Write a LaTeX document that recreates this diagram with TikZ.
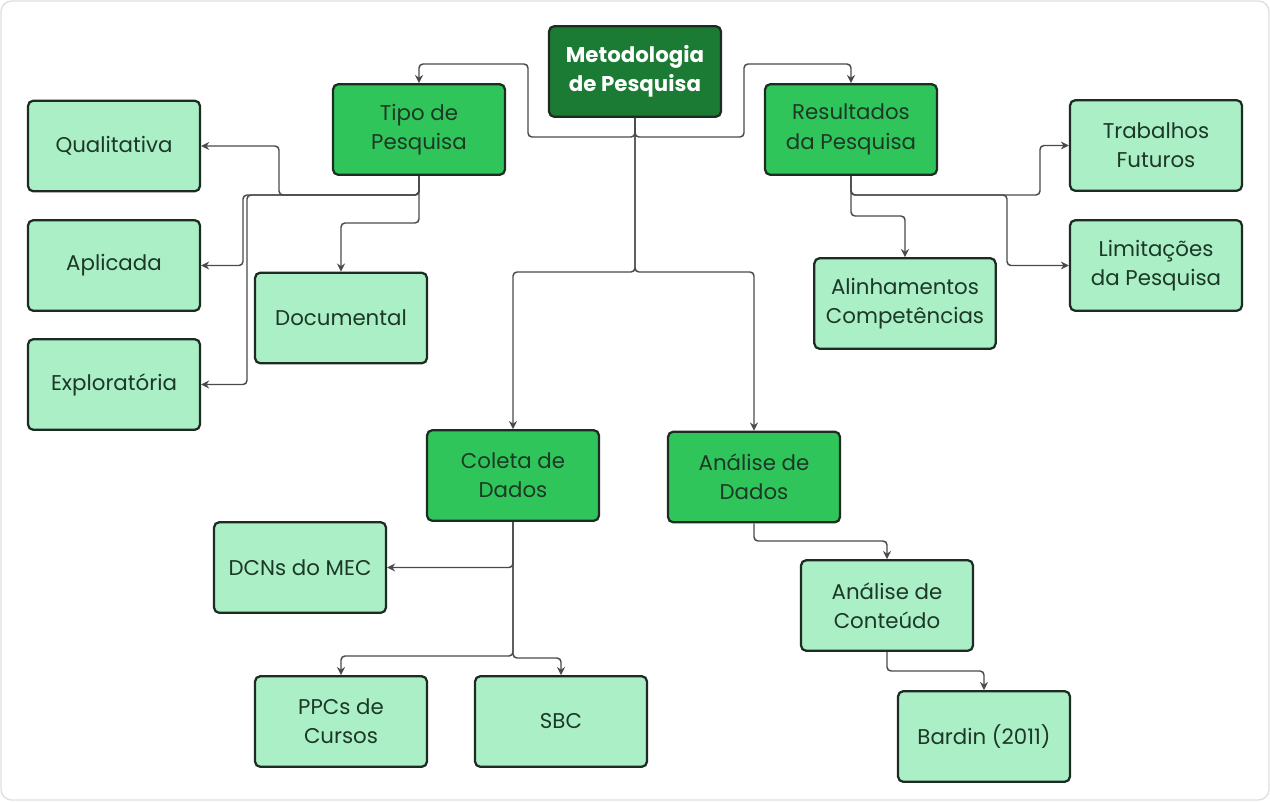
\documentclass[tikz,border=0pt]{standalone}
\usepackage{fontspec}
\setmainfont{Poppins}
\usetikzlibrary{arrows.meta}
\definecolor{deep}{HTML}{1B7A33}
\definecolor{mid}{HTML}{30C55A}
\definecolor{pale}{HTML}{ABEFC6}
\definecolor{edge}{HTML}{1E2B22}
\definecolor{ink}{HTML}{1C3826}
\definecolor{wire}{HTML}{4A4A4A}

\begin{document}
\begin{tikzpicture}[x=0.75pt, y=-0.75pt,
  box/.style={draw=edge, line width=1.7pt, rounded corners=4pt, fill=pale,
              minimum width=129pt, minimum height=68pt, align=center,
              text=ink, font=\fontsize{16}{22}\selectfont},
  midbox/.style={box, fill=mid},
  topbox/.style={box, fill=deep, text=white,
                 font=\fontsize{16}{22}\selectfont\bfseries},
  arr/.style={-{Stealth[length=6pt, width=6pt]}, wire, line width=1.1pt,
              rounded corners=3pt}]
  \useasboundingbox (0,0) rectangle (1270,801);
  \draw[black!13, line width=1pt, rounded corners=8pt] (1,1) rectangle (1269,800);

  \node[topbox] (metod) at (635,71.5) {Metodologia\\de Pesquisa};
  \node[midbox] (tipo) at (419,129.5) {Tipo de\\Pesquisa};
  \node[midbox] (res) at (851,129.5) {Resultados\\da Pesquisa};
  \node[box] (qual) at (114,146) {Qualitativa};
  \node[box] (aplic) at (114,265.5) {Aplicada};
  \node[box] (explo) at (114,384.5) {Exploratória};
  \node[box] (doc) at (341,318) {Documental};
  \node[box] (trab) at (1156,145.5) {Trabalhos\\Futuros};
  \node[box] (limit) at (1156,265.5) {Limitações\\da Pesquisa};
  \node[box, minimum width=136pt] (alin) at (905,303.5) {Alinhamentos\\Competências};
  \node[midbox] (coleta) at (513,475.5) {Coleta de\\Dados};
  \node[midbox] (analise) at (754,477) {Análise de\\Dados};
  \node[box] (dcn) at (300,567.5) {DCNs do MEC};
  \node[box] (ppc) at (341,721.5) {PPCs de\\Cursos};
  \node[box] (sbc) at (561,721.5) {SBC};
  \node[box] (conteudo) at (887,605.5) {Análise de\\Conteúdo};
  \node[box] (bardin) at (984,736.5) {Bardin (2011)};

  \draw[arr] (metod.south) |- (528,137) |- (419,64) -- (tipo.north);
  \draw[arr] (metod.south) |- (744,137) |- (851,64) -- (res.north);
  \draw[arr] (metod.south) |- (513,272) -- (coleta.north);
  \draw[arr] (metod.south) |- (754,272) -- (analise.north);

  \draw[arr] (tipo.south) |- (279,195) |- (qual.east);
  \draw[arr] (tipo.south) |- (243,195) |- (aplic.east);
  \draw[arr] (tipo.south) |- (247,195) |- (explo.east);
  \draw[arr] (tipo.south) |- (341,223) -- (doc.north);

  \draw[arr] (res.south) |- (1040,195) |- (trab.west);
  \draw[arr] (res.south) |- (1007,195) |- (limit.west);
  \draw[arr] (res.south) |- (905,216) -- (alin.north);

  \draw[arr] (coleta.south) |- (dcn.east);
  \draw[arr] (coleta.south) |- (341,656) -- (ppc.north);
  \draw[arr] (coleta.south) |- (561,658) -- (sbc.north);

  \draw[arr] (analise.south) |- (887,541) -- (conteudo.north);
  \draw[arr] (conteudo.south) |- (984,671) -- (bardin.north);
\end{tikzpicture}
\end{document}
